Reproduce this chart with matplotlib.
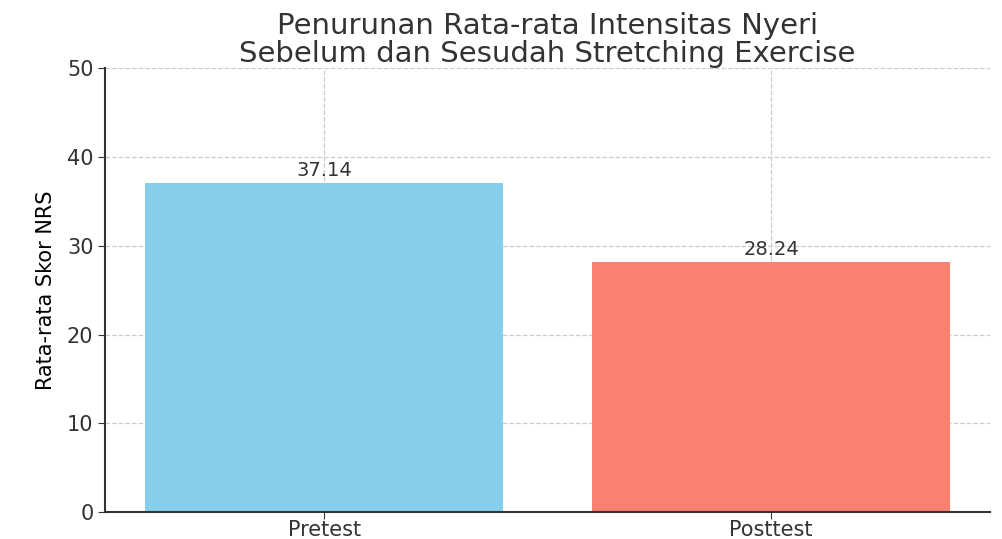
import matplotlib.pyplot as plt

groups = ['Pretest', 'Posttest']
mean_scores = [37.14, 28.24]
bar_colors = ['skyblue', 'salmon']


def plot_bars(ax):
    bars = ax.bar(groups, mean_scores, color=bar_colors, width=0.8)
    for bar, val in zip(bars, mean_scores):
        ax.text(bar.get_x() + bar.get_width() / 2, val + 0.3, f'{val:.2f}',
                ha='center', va='bottom', fontsize=14, color='#333333')

    ax.set_ylim(0, 50)
    ax.set_ylabel('Rata-rata Skor NRS', fontsize=15, labelpad=8)
    ax.set_title('Penurunan Rata-rata Intensitas Nyeri\nSebelum dan Sesudah Stretching Exercise',
                 fontsize=21, color='#333333', pad=2, linespacing=1.0)
    ax.tick_params(axis='y', labelsize=15, colors='#333333', length=5)
    ax.tick_params(axis='x', labelsize=15, colors='#333333', length=5, pad=1)
    ax.grid(True, linestyle='--', color='#cccccc', linewidth=0.9)
    ax.set_axisbelow(True)
    ax.spines['top'].set_visible(False)
    ax.spines['right'].set_visible(False)
    ax.spines['left'].set_linewidth(1.5)
    ax.spines['bottom'].set_linewidth(1.5)
    ax.spines['left'].set_color('#333333')
    ax.spines['bottom'].set_color('#333333')


def plot():
    fig, ax = plt.subplots(figsize=(10.02, 5.39), dpi=100)
    plot_bars(ax)
    fig.subplots_adjust(left=0.105, right=0.988, bottom=0.05, top=0.873)
    fig.savefig('out.png', dpi=100)


if __name__ == '__main__':
    plot()
